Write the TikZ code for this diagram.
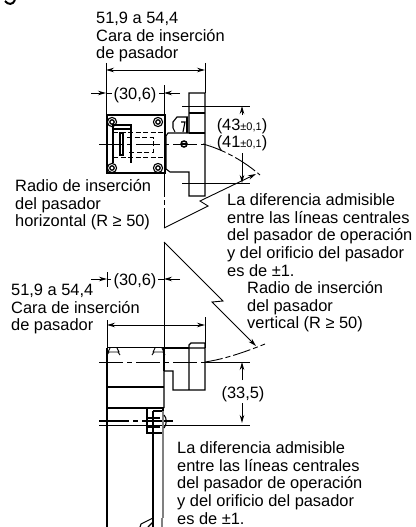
\documentclass[tikz,border=0pt]{standalone}
\usepackage{fontspec}
\setmainfont{Liberation Sans}
\usetikzlibrary{arrows.meta}
\tikzset{
	lbl/.style={anchor=west, align=left, inner sep=0pt, font=\fontsize{16.4}{17.6}\selectfont},
	dimlbl/.style={inner sep=0pt, font=\fontsize{16.4}{17.6}\selectfont},
	thin line/.style={line width=0.9pt},
	body line/.style={line width=1.1pt},
	heavy line/.style={line width=2pt},
	dim line/.style={line width=0.9pt, -{Stealth[length=8pt,width=4.5pt]}},
	both line/.style={line width=0.9pt, {Stealth[length=8pt,width=4.5pt]}-{Stealth[length=8pt,width=4.5pt]}},
	center line/.style={line width=0.9pt, dash pattern=on 24pt off 4pt on 5pt off 4pt},
	dash line/.style={line width=0.9pt, dash pattern=on 5pt off 2.5pt}
}
\newcommand{\smalltol}{{\fontsize{11}{11}\selectfont ±0,1}}
\begin{document}
\begin{tikzpicture}[x=1pt,y=-1pt]
	\useasboundingbox (0,0) rectangle (415,527);
	\draw[line width=2pt] (5,1) .. controls (8,5) and (13,5) .. (15,0);
	
	\path (96,37) node[lbl] (topface){51,9 a 54,4\\Cara de inserción\\de pasador}
	(15,205) node[lbl] (radiush){Radio de inserción\\del pasador\\horizontal (R ≥ 50)}
	(227,235) node[lbl] (toldiffa){La diferencia admisible\\entre las líneas centrales\\del pasador de operación\\y del orificio del pasador\\es de ±1.}
	(11,309) node[lbl] (lowface){51,9 a 54,4\\Cara de inserción\\de pasador}
	(247,307) node[lbl] (radiusv){Radio de inserción\\del pasador\\vertical (R ≥ 50)}
	(177,483) node[lbl] (toldiffb){La diferencia admisible\\entre las líneas centrales\\del pasador de operación\\y del orificio del pasador\\es de ±1.}
	(135,95) node[dimlbl] (wa){(30,6)}
	(135,281) node[dimlbl] (wb){(30,6)}
	(242,126) node[dimlbl] (ha){(43\smalltol)}
	(242,143) node[dimlbl] (hb){(41\smalltol)}
	(243,394) node[dimlbl] (hc){(33,5)};
	
	% upper view: extension lines and dimensions
	\draw[thin line] (106,63) -- (106,115) (205,63) -- (205,93) (164,85) -- (164,115);
	\draw[both line] (106,70) -- (205,70);
	\draw[dim line] (91,93) -- (106,93);
	\draw[thin line] (106,93) -- (112,93) (159,93) -- (164,93);
	\draw[dim line] (180,93) -- (164,93);
	\draw[thin line] (182,106) -- (250,106) (182,183) -- (250,183);
	\draw[dim line] (242,115) -- (242,106);
	\draw[dim line] (242,153) -- (242,183);
	
	% upper view: body
	\draw[heavy line] (107,115) rectangle (165,173);
	\draw[body line] (113,163) -- (113,125) -- (131,125) -- (131,163);
	\draw[body line] (113,129) -- (131,129);
	\draw[body line, fill=white] (120,133) rectangle (123,155);
	\draw[dash line] (113,132) -- (164,132) (113,157) -- (164,157) (113,132) -- (113,157);
	\draw[dash line] (127,137) -- (153,137) -- (153,152) -- (127,152);
	\foreach \sx/\sy in {112/122, 158/122, 112/168, 158/168} {
		\draw[body line] (\sx,\sy) circle (4.6pt);
		\draw[line width=1.3pt] (\sx,\sy) circle (2.2pt);
	}
	\draw[center line] (99,144) -- (210,144);
	\draw[line width=1.5pt, fill=white] (184,144) circle (3pt);
	\fill (181.5,143.4) rectangle (186.5,144.6);
	
	% upper view: bracket
	\draw[body line] (189,133) -- (189,93) -- (205,93) -- (205,196) -- (189,196) -- (189,172) -- (170,172) -- (166,169);
	\draw[body line] (189,113) -- (205,113) (189,133) -- (205,133);
	\draw[body line] (166,136) -- (166,169) (166,136) -- (168,133) -- (189,133);
	\draw[body line] (175,132) -- (173,128) -- (173,122) -- (177,117) -- (188,117);
	\draw[heavy line] (187,117) -- (187,133);
	\draw[body line] (181,122) -- (185,122) -- (183,132);
	
	% upper view: insertion radius and leader
	\draw[dash line, dash pattern=on 24pt off 3pt on 5pt off 3pt] (203,144) .. controls (225,150) and (245,162) .. (260,175);
	\draw[dim line] (164,228) -- (208,206) -- (200,201) -- (256,174);
	\draw[thin line, dash pattern=on 24pt off 3pt on 5pt off 3pt] (164,173) -- (164,228);
	
	% lower view: extension lines and dimensions
	\draw[thin line] (107,320) -- (107,347) (205,317) -- (205,348) (164,242) -- (164,347);
	\draw[both line] (107,325) -- (205,325);
	\draw[dim line] (91,279) -- (107,279);
	\draw[thin line] (107,279) -- (111,279) (107,272) -- (107,287) (158,279) -- (164,279);
	\draw[dim line] (180,279) -- (164,279);
	\draw[dim line] (164,242) -- (223,301) -- (212,302) -- (256,346);
	
	% lower view: body
	\draw[heavy line] (107,348) -- (107,527);
	\draw[body line] (107,347.5) -- (164,347.5) (164,348) -- (189,348);
	\draw[heavy line] (164,347) -- (164,371);
	\draw[body line] (164,371) -- (164,408) (164,371) -- (173,371) -- (173,390) -- (205,390) -- (205,348) -- (189,348) (189,390) -- (189,345) -- (191,343) -- (205,343) -- (205,348);
	\draw[body line] (107,387) -- (164,387) (107,408) -- (164,408);
	\foreach \sx in {108,153} {
		\draw[thin line] (\sx+2,348) -- (\sx,352) -- (\sx+11,352) -- (\sx+9,348);
		\draw[thin line] (\sx+1,352) -- (\sx-1,355) (\sx+10,352) -- (\sx+12,355);
	}
	\draw[center line] (99,362) -- (205,362);
	\draw[thin line] (205,362) -- (250,362);
	\draw[dash line, dash pattern=on 18pt off 3pt on 5pt off 3pt] (205,362) .. controls (225,359) and (245,352) .. (265,344);
	\draw[dim line] (242,380) -- (242,362);
	\draw[dim line] (242,403) -- (242,423);
	
	% lower view: pin
	\draw[thin line] (99,425) -- (250,425);
	\draw[body line, dash pattern=on 30pt off 4pt on 5pt off 4pt on 100pt off 0pt] (99,421) -- (173,421);
	\draw[body line] (147,408) -- (147,433) -- (163,433) -- (163,408);
	\draw[body line] (153,411) -- (163,411);
	\draw[heavy line] (153,411) -- (153,527);
	\draw[line width=1.4pt, gray] (163,411) -- (163,518);
	\draw[heavy line, gray] (162,518) -- (162,527);
	\draw[body line] (147,418) -- (160,418) (147,427) -- (160,427);
	\draw[body line] (164,415) .. controls (167,418) and (167,424) .. (164,428);
	\draw[body line] (140,527) -- (141,524) -- (153,518) (148,527) -- (153,522);
\end{tikzpicture}
\end{document}
